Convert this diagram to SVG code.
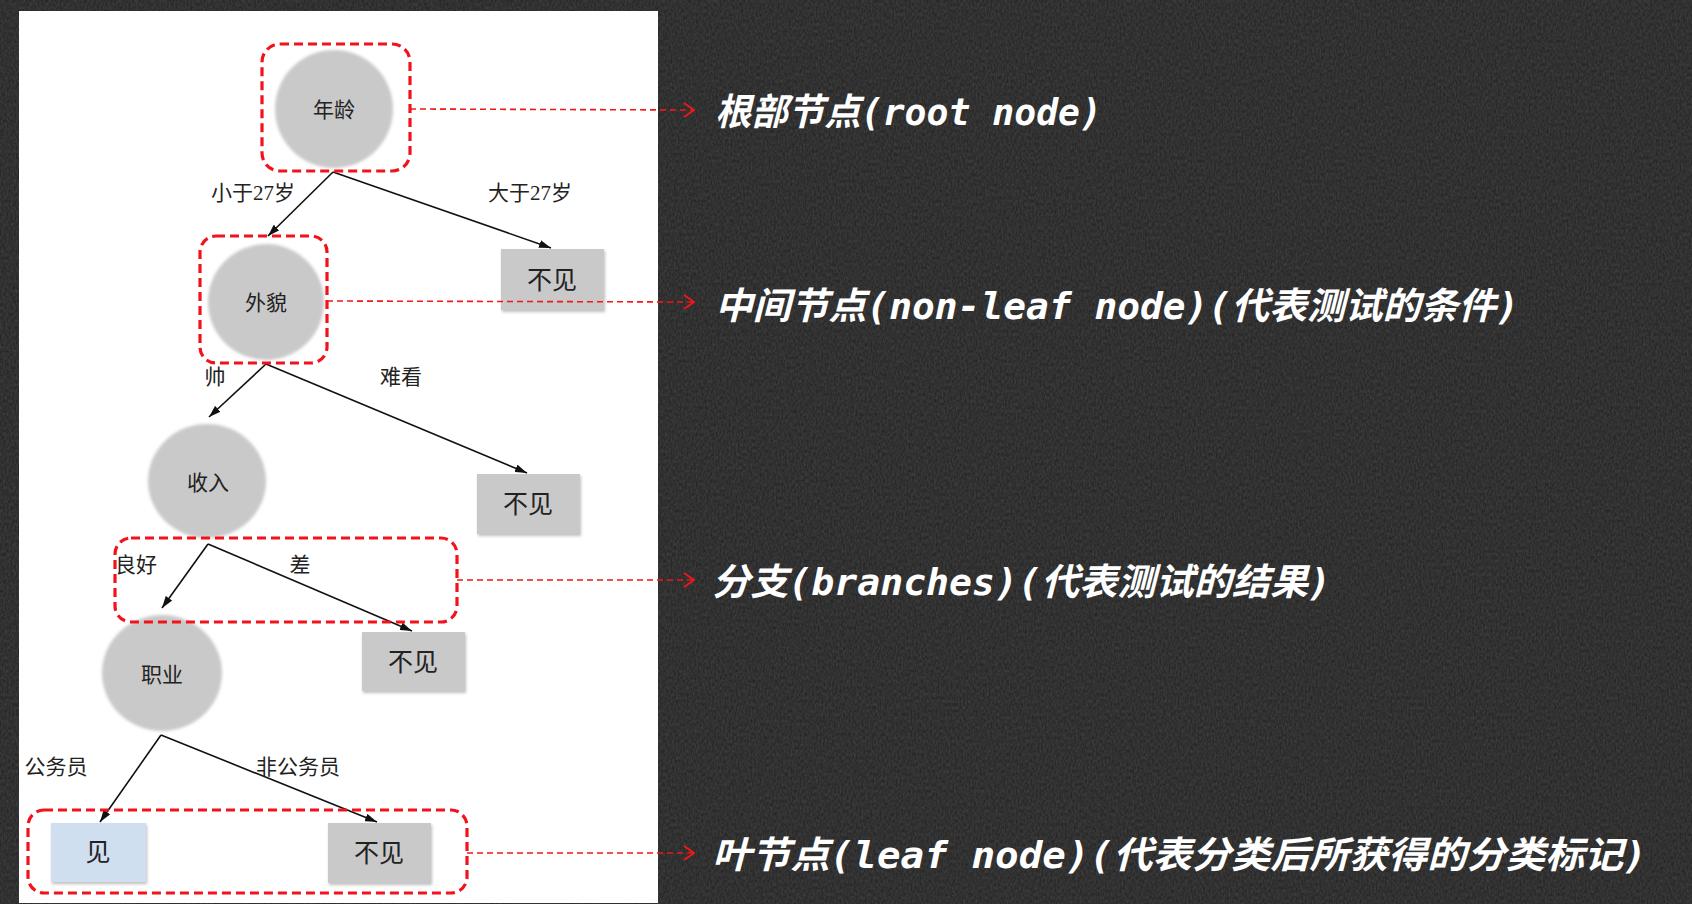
<svg xmlns="http://www.w3.org/2000/svg" width="1692" height="904" viewBox="0 0 1692 904">
<defs>
<filter id="noise" x="0" y="0" width="100%" height="100%">
<feTurbulence type="fractalNoise" baseFrequency="0.55 0.3" numOctaves="3" seed="7" result="t"/>
<feColorMatrix in="t" type="matrix" values="0 0 0 0 1  0 0 0 0 1  0 0 0 0 1  0 0 0 0.16 -0.02"/>
</filter>
<filter id="soft" x="-10%" y="-10%" width="120%" height="120%">
<feGaussianBlur stdDeviation="1.8"/>
</filter>
<filter id="shadow" x="-10%" y="-10%" width="125%" height="130%">
<feDropShadow dx="1" dy="2" stdDeviation="1.5" flood-color="#000" flood-opacity="0.25"/>
</filter>
<marker id="arr" viewBox="0 0 12 8" refX="12" refY="4" markerWidth="12" markerHeight="8" markerUnits="userSpaceOnUse" orient="auto">
<path d="M0,0 L12,4 L0,8 Z" fill="#111"/>
</marker>
<marker id="chev" viewBox="0 0 12 16" refX="11" refY="8" markerWidth="12" markerHeight="16" markerUnits="userSpaceOnUse" orient="auto">
<path d="M1,1 L11,8 L1,15" fill="none" stroke="#f01818" stroke-width="1.8"/>
</marker>
</defs>
<style>
.node ellipse{fill:#c9c9c9;filter:url(#soft)}
.box{fill:#c9c9c9;filter:url(#shadow)}
.lbl{font-family:"Liberation Serif","Noto Sans CJK SC",serif;font-size:21px;fill:#222;text-anchor:middle;dominant-baseline:central}
.big{font-size:25px}
.edge{stroke:#111;stroke-width:1.6;fill:none;marker-end:url(#arr)}
.hl{fill:none;stroke:#f2121c;stroke-width:3.2;stroke-dasharray:9 5}
.lead{stroke:#f01818;stroke-width:1.6;stroke-dasharray:6 4;fill:none;marker-end:url(#chev)}
.note{font-family:"DejaVu Sans Mono","Noto Sans CJK SC",monospace;font-size:37px;font-style:italic;font-weight:bold;fill:#fff;dominant-baseline:central}
</style>
<rect x="0" y="0" width="1692" height="904" fill="#242424"/>
<rect x="0" y="0" width="1692" height="904" filter="url(#noise)"/>
<rect x="19" y="11" width="639" height="892" fill="#fff"/>

<g id="connectors">
<line class="edge" x1="333" y1="172" x2="268" y2="236"/>
<line class="edge" x1="333" y1="172" x2="551" y2="248"/>
<line class="edge" x1="266" y1="364" x2="209" y2="417"/>
<line class="edge" x1="266" y1="364" x2="527" y2="473"/>
<line class="edge" x1="208" y1="544" x2="162" y2="608"/>
<line class="edge" x1="208" y1="544" x2="412" y2="631"/>
<line class="edge" x1="161" y1="735" x2="100" y2="822"/>
<line class="edge" x1="161" y1="735" x2="377" y2="822"/>
</g>

<g id="edge-labels">
<text class="lbl" x="253" y="193">小于27岁</text>
<text class="lbl" x="530" y="193">大于27岁</text>
<text class="lbl" x="215" y="377">帅</text>
<text class="lbl" x="401" y="377">难看</text>
<text class="lbl" x="136" y="565">良好</text>
<text class="lbl" x="300" y="565">差</text>
<text class="lbl" x="56" y="767">公务员</text>
<text class="lbl" x="298" y="767">非公务员</text>
</g>

<g id="n-age" class="node">
<ellipse cx="334" cy="109" rx="59" ry="59"/>
<text class="lbl" x="334" y="110">年龄</text>
</g>
<g id="n-leaf1">
<rect class="box" x="501" y="249" width="103" height="61"/>
<text class="lbl big" x="552" y="280">不见</text>
</g>
<g id="n-look" class="node">
<ellipse cx="266" cy="302" rx="58" ry="58"/>
<text class="lbl" x="266" y="303">外貌</text>
</g>
<g id="n-leaf2">
<rect class="box" x="477" y="474" width="103" height="60"/>
<text class="lbl big" x="528" y="504">不见</text>
</g>
<g id="n-income" class="node">
<ellipse cx="207" cy="481" rx="59" ry="57"/>
<text class="lbl" x="208" y="483">收入</text>
</g>
<g id="n-leaf3">
<rect class="box" x="362" y="632" width="103" height="59"/>
<text class="lbl big" x="413" y="662">不见</text>
</g>
<g id="n-job" class="node">
<ellipse cx="162" cy="673" rx="60" ry="58"/>
<text class="lbl" x="162" y="675">职业</text>
</g>
<g id="n-see">
<rect class="box" x="51" y="823" width="95" height="59" style="fill:#cfdff0"/>
<text class="lbl big" x="98" y="852">见</text>
</g>
<g id="n-leaf4">
<rect class="box" x="328" y="823" width="103" height="60"/>
<text class="lbl big" x="379" y="853">不见</text>
</g>

<g id="highlights">
<rect class="hl" x="262" y="44" width="148" height="127" rx="18"/>
<rect class="hl" x="200" y="236" width="127" height="127" rx="16"/>
<rect class="hl" x="115" y="538" width="342" height="84" rx="16"/>
<rect class="hl" x="28" y="810" width="439" height="83" rx="16"/>
</g>

<g id="leaders">
<path class="lead" d="M410,109 L694,110"/>
<path class="lead" d="M327,301 L694,302"/>
<path class="lead" d="M457,580 L694,580"/>
<path class="lead" d="M467,853 L694,853"/>
</g>

<g id="notes">
<text class="note" x="715" y="112" textLength="387" lengthAdjust="spacingAndGlyphs">根部节点(root node)</text>
<text class="note" x="715" y="306" textLength="804" lengthAdjust="spacingAndGlyphs">中间节点(non-leaf node)(代表测试的条件)</text>
<text class="note" x="712" y="582" textLength="619" lengthAdjust="spacingAndGlyphs">分支(branches)(代表测试的结果)</text>
<text class="note" x="712" y="855" textLength="935" lengthAdjust="spacingAndGlyphs">叶节点(leaf node)(代表分类后所获得的分类标记)</text>
</g>
</svg>
